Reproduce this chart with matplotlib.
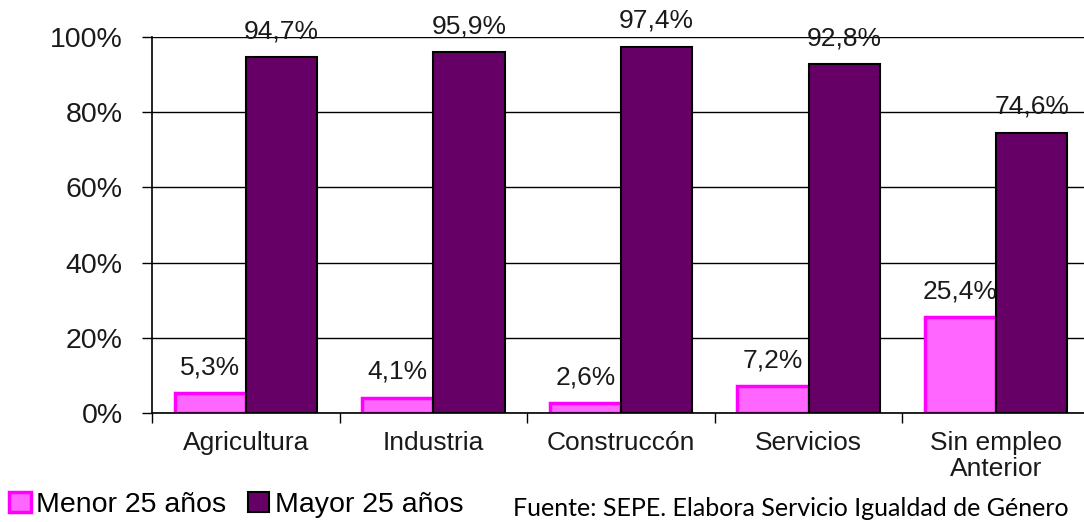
import matplotlib.pyplot as plt
import numpy as np

plt.rcParams["font.family"] = ["Liberation Sans", "DejaVu Sans"]

categorias = ["Agricultura", "Industria", "Construccón", "Servicios", "Sin empleo\nAnterior"]
menor_25 = [5.3, 4.1, 2.6, 7.2, 25.4]
mayor_25 = [94.7, 95.9, 97.4, 92.8, 74.6]
series = ["Menor 25 años", "Mayor 25 años"]
yticks = [0, 20, 40, 60, 80, 100]
fuente = "Fuente: SEPE. Elabora Servicio Igualdad de Género"

W, H = 1084, 522
fig = plt.figure(figsize=(W / 100, H / 100), dpi=100)
ax = fig.add_axes([152 / W, 1 - 413 / H, (1090 - 152) / W, 376 / H])

x = np.arange(len(categorias))
w = 0.38

b1 = ax.bar(x - w / 2, menor_25, w, color="#ff66ff", edgecolor="#ff00ff",
            linewidth=2.5, zorder=3, label=series[0])
b2 = ax.bar(x + w / 2, mayor_25, w, color="#660066", edgecolor="black",
            linewidth=1.5, zorder=3, label=series[1])

for bars, vals in ((b1, menor_25), (b2, mayor_25)):
    for rect, v in zip(bars, vals):
        ax.annotate(f"{v:.1f}".replace(".", ",") + "%",
                    (rect.get_x() + rect.get_width() / 2, v),
                    xytext=(0, 10), textcoords="offset points",
                    ha="center", va="bottom", fontsize=19, color="#1a1a1a")

ax.set_xlim(-0.5, len(categorias) - 0.5)
ax.set_ylim(0, 100)
ax.set_yticks(yticks)
ax.set_yticklabels([f"{t}%" for t in yticks], fontsize=20.5, color="#1a1a1a")
ax.set_xticks(x)
ax.set_xticklabels(categorias, fontsize=19, color="#1a1a1a", linespacing=1.12)
ax.set_xticks(np.arange(len(categorias) + 1) - 0.5, minor=True)
ax.tick_params(axis="x", which="major", length=0, pad=13)
ax.tick_params(axis="x", which="minor", length=7, width=1, direction="out")
ax.tick_params(axis="y", length=7, width=1, pad=14)

ax.grid(axis="y", color="black", linewidth=1, zorder=0)
ax.set_axisbelow(True)
for s in ("top", "right"):
    ax.spines[s].set_visible(False)
for s in ("left", "bottom"):
    ax.spines[s].set_linewidth(1.2)
    ax.spines[s].set_zorder(4)

fig.legend(handles=[b1, b2], loc="lower left", bbox_to_anchor=(-0.002, -0.014),
           ncol=2, frameon=False, fontsize=20.5, handlelength=0.75,
           handleheight=0.75, handletextpad=0.2, columnspacing=0.75,
           borderaxespad=0)

fig.text(513 / W, 2 / H, fuente, family="Lato", fontsize=18,
         ha="left", va="bottom", color="black")

fig.savefig("out.png", dpi=100)
